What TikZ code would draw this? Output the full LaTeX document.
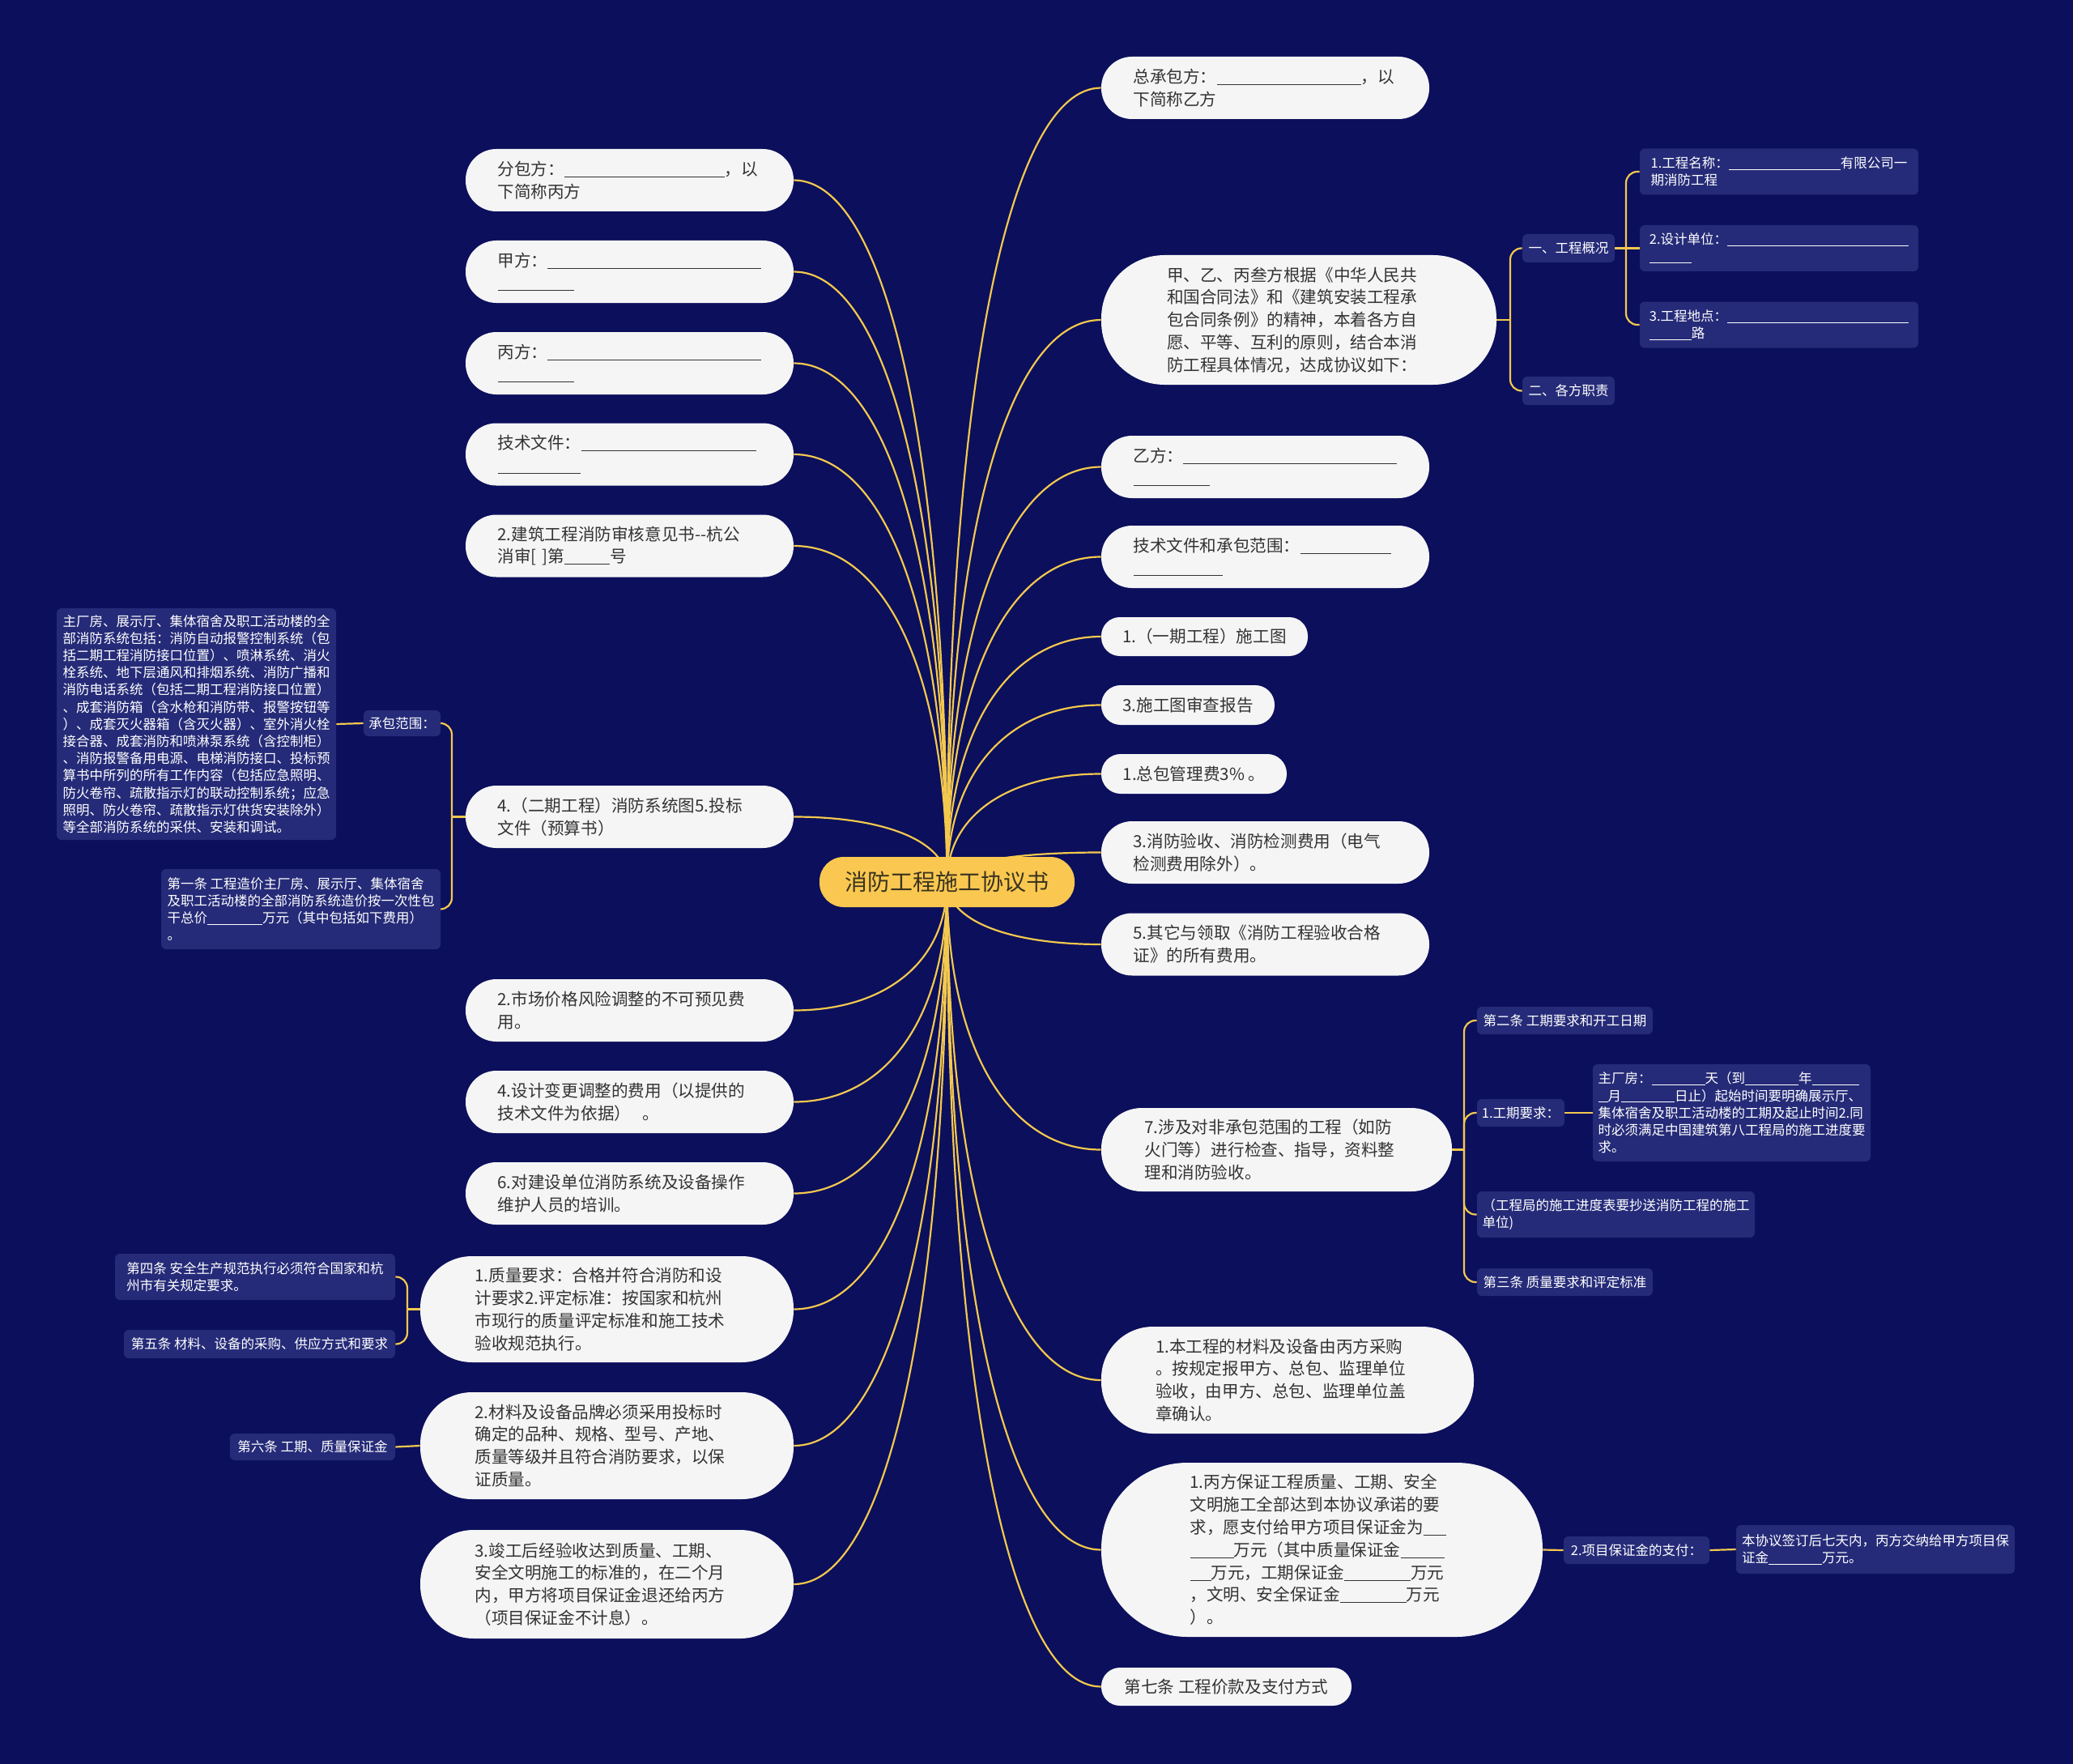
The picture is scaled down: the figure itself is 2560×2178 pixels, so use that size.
\documentclass[tikz,border=0pt]{standalone}
\usepackage{fontspec}
\setmainfont{Noto Sans CJK SC}
\usetikzlibrary{calc}
\definecolor{bgc}{HTML}{0B0F5C}
\definecolor{lineY}{HTML}{F3C84E}
\definecolor{rootY}{HTML}{FAC850}
\definecolor{rootT}{HTML}{3A3320}
\definecolor{wfill}{HTML}{F5F5F5}
\definecolor{wtext}{HTML}{333333}
\definecolor{sfill}{HTML}{252B78}
\pgfdeclarelayer{bglayer}
\pgfsetlayers{bglayer,main}
\newcommand\blk[1]{\rule[-1.3pt]{#1}{0.5pt}}
\newcommand\sblk[1]{\rule[-1.1pt]{#1}{0.45pt}}
\tikzset{
  conn/.style={draw=lineY, line width=1.1pt},
  rootn/.style={fill=rootY, text=rootT, font=\fontsize{14}{17}\selectfont, rounded corners=15pt, minimum width=157.5pt, minimum height=31pt, inner sep=2pt, align=center},
  wn/.style={fill=wfill, text=wtext, font=\fontsize{10.3}{13.9}\selectfont, align=left, inner sep=2pt},
  wm/.style={wn, text width=163pt},
  lw/.style={wm, minimum width=202.5pt, minimum height=38.5pt, rounded corners=19pt},
  sb/.style={fill=sfill, text=white, font=\fontsize{8.25}{10.6}\selectfont, align=left, inner sep=2pt, rounded corners=3pt},
}
\begin{document}
\begin{tikzpicture}[x=0.5pt,y=-0.5pt]
\useasboundingbox (0,0) rectangle (2560,2178);
\begin{pgfonlayer}{bglayer}
\fill[bgc] (0,0) rectangle (2560,2178);
\end{pgfonlayer}

% root
\node[rootn] (root) at (1169.5,1089) {消防工程施工协议书};

% left level-1
\node[lw] (L1) at (777.5,222.5) {分包方：\blk{99pt}，以\\下简称丙方};
\node[lw] (L2) at (777.5,335.5) {甲方：\blk{132pt}\\\blk{47pt}};
\node[lw] (L3) at (777.5,448.5) {丙方：\blk{132pt}\\\blk{47pt}};
\node[lw] (L4) at (777.5,561) {技术文件：\blk{108pt}\\\blk{51pt}};
\node[lw] (L5) at (777.5,674) {2.建筑工程消防审核意见书-{}-杭公\\消审[~]第\blk{28pt}号};
\node[lw] (L6) at (777.5,1008.5) {4.（二期工程）消防系统图5.投标\\文件（预算书）};
\node[lw] (L7) at (777.5,1247.5) {2.市场价格风险调整的不可预见费\\用。};
\node[lw] (L8) at (777.5,1360.5) {4.设计变更调整的费用（以提供的\\技术文件为依据）~~。};
\node[lw] (L9) at (777.5,1473.5) {6.对建设单位消防系统及设备操作\\维护人员的培训。};
\node[wm, minimum width=230.5pt, minimum height=65.5pt, rounded corners=32pt] (L10) at (749.5,1616.5) {1.质量要求：合格并符合消防和设\\计要求2.评定标准：按国家和杭州\\市现行的质量评定标准和施工技术\\验收规范执行。};
\node[wm, minimum width=230.5pt, minimum height=66pt, rounded corners=32pt] (L11) at (749.5,1785) {2.材料及设备品牌必须采用投标时\\确定的品种、规格、型号、产地、\\质量等级并且符合消防要求，以保\\证质量。};
\node[wm, minimum width=230.5pt, minimum height=67pt, rounded corners=33pt] (L12) at (749.5,1956) {3.竣工后经验收达到质量、工期、\\安全文明施工的标准的，在二个月\\内，甲方将项目保证金退还给丙方\\（项目保证金不计息）。};

% right level-1
\node[lw] (R1) at (1562.5,108.5) {总承包方：\blk{89pt}，以\\下简称乙方};
\node[wm, minimum width=244pt, minimum height=80pt, rounded corners=39pt] (R2) at (1604,395) {甲、乙、丙叁方根据《中华人民共\\和国合同法》和《建筑安装工程承\\包合同条例》的精神，本着各方自\\愿、平等、互利的原则，结合本消\\防工程具体情况，达成协议如下：};
\node[lw] (R3) at (1562.5,576.5) {乙方：\blk{132pt}\\\blk{47pt}};
\node[lw] (R4) at (1562.5,687.5) {技术文件和承包范围：\blk{56pt}\\\blk{55pt}};
\node[wn, minimum width=127.5pt, minimum height=24pt, rounded corners=11.5pt] (R5) at (1487.5,786) {1.（一期工程）施工图};
\node[wn, minimum width=107pt, minimum height=24.5pt, rounded corners=12pt] (R6) at (1467,870.5) {3.施工图审查报告};
\node[wn, minimum width=114.5pt, minimum height=24.5pt, rounded corners=12pt] (R7) at (1474.5,955.5) {1.总包管理费3\%\ 。};
\node[lw] (R8) at (1562.5,1052.5) {3.消防验收、消防检测费用（电气\\检测费用除外）。};
\node[lw] (R9) at (1562.5,1166) {5.其它与领取《消防工程验收合格\\证》的所有费用。};
\node[wm, minimum width=216.5pt, minimum height=51.5pt, rounded corners=25pt] (R10) at (1576.5,1419.5) {7.涉及对非承包范围的工程（如防\\火门等）进行检查、指导，资料整\\理和消防验收。};
\node[wm, minimum width=230pt, minimum height=66pt, rounded corners=32pt] (R11) at (1590,1704) {1.本工程的材料及设备由丙方采购\\。按规定报甲方、总包、监理单位\\验收，由甲方、总包、监理单位盖\\章确认。};
\node[wm, minimum width=272.5pt, minimum height=107.5pt, rounded corners=53pt] (R12) at (1632.5,1913.5) {1.丙方保证工程质量、工期、安全\\文明施工全部达到本协议承诺的要\\求，愿支付给甲方项目保证金为\blk{14pt}\\\blk{27pt}万元（其中质量保证金\blk{27pt}\\\blk{13pt}万元，工期保证金\blk{41pt}万元\\，文明、安全保证金\blk{41pt}万元\\）。};
\node[wn, minimum width=154.5pt, minimum height=23.5pt, rounded corners=11.5pt] (R13) at (1514.5,2082.5) {第七条 工程价款及支付方式};

% small boxes right top
\node[sb, minimum width=57pt, minimum height=17.5pt] (S1) at (1937,306.5) {一、工程概况};
\node[sb, minimum width=57pt, minimum height=17.5pt] (S2) at (1937,482.5) {二、各方职责};
\node[sb, minimum width=172pt, minimum height=28.5pt] (S3) at (2197,212) {1.工程名称：\sblk{69pt}有限公司一\\期消防工程};
\node[sb, minimum width=172pt, minimum height=28.5pt] (S4) at (2197,306.5) {2.设计单位：\sblk{112pt}\\\sblk{26pt}};
\node[sb, minimum width=172pt, minimum height=28.5pt] (S5) at (2197,401) {3.工程地点：\sblk{112pt}\\\sblk{26pt}路};

% left small boxes
\node[sb, minimum width=47.5pt, minimum height=16pt] (K1) at (496.5,893) {承包范围：};
\node[sb, minimum width=172.5pt, minimum height=143pt] (K2) at (242.5,894) {主厂房、展示厅、集体宿舍及职工活动楼的全\\部消防系统包括：消防自动报警控制系统（包\\括二期工程消防接口位置）、喷淋系统、消火\\栓系统、地下层通风和排烟系统、消防广播和\\消防电话系统（包括二期工程消防接口位置）\\、成套消防箱（含水枪和消防带、报警按钮等\\）、成套灭火器箱（含灭火器）、室外消火栓\\接合器、成套消防和喷淋泵系统（含控制柜）\\、消防报警备用电源、电梯消防接口、投标预\\算书中所列的所有工作内容（包括应急照明、\\防火卷帘、疏散指示灯的联动控制系统；应急\\照明、防火卷帘、疏散指示灯供货安装除外）\\等全部消防系统的采供、安装和调试。};
\node[sb, minimum width=172.5pt, minimum height=49.5pt] (K3) at (371.5,1122.5) {第一条 工程造价主厂房、展示厅、集体宿舍\\及职工活动楼的全部消防系统造价按一次性包\\干总价\sblk{34pt}万元（其中包括如下费用）\\。};
\node[sb, minimum width=173pt, minimum height=28.5pt] (Q1) at (315,1576.5) {第四条 安全生产规范执行必须符合国家和杭\\州市有关规定要求。};
\node[sb, minimum width=167.5pt, minimum height=17.5pt] (Q2) at (320.5,1659.5) {第五条 材料、设备的采购、供应方式和要求};
\node[sb, minimum width=102pt, minimum height=16.5pt] (Q3) at (386,1786.5) {第六条 工期、质量保证金};

% right middle small boxes
\node[sb, minimum width=108.5pt, minimum height=17pt] (T1) at (1932.5,1260) {第二条 工期要求和开工日期};
\node[sb, minimum width=54pt, minimum height=17pt] (T2) at (1878,1374) {1.工期要求：};
\node[sb, minimum width=171.5pt, minimum height=60pt] (T3) at (2138.5,1374) {主厂房：\sblk{33pt}天（到\sblk{33pt}年\sblk{29pt}\\\sblk{6pt}月\sblk{33pt}日止）起始时间要明确展示厅、\\集体宿舍及职工活动楼的工期及起止时间2.同\\时必须满足中国建筑第八工程局的施工进度要\\求。};
\node[sb, minimum width=171.5pt, minimum height=28.5pt] (T4) at (1995.5,1499.5) {（工程局的施工进度表要抄送消防工程的施工\\单位)};
\node[sb, minimum width=108.5pt, minimum height=17pt] (T5) at (1932.5,1583) {第三条 质量要求和评定标准};
\node[sb, minimum width=90pt, minimum height=17pt] (P1) at (2021,1914) {2.项目保证金的支付：};
\node[sb, minimum width=172pt, minimum height=30pt] (P2) at (2316,1913) {本协议签订后七天内，丙方交纳给甲方项目保\\证金\sblk{33pt}万元。};

% junction coordinates
\coordinate (jR2) at (1865,395);
\coordinate (jS1) at (2008,306.5);
\coordinate (jR10) at (1808,1419.5);
\coordinate (jL6) at (558,1008.5);
\coordinate (jL10) at (503,1616.5);

\begin{pgfonlayer}{bglayer}
\foreach \n in {L1,L2,L3,L4,L5,L6,L7,L8,L9,L10,L11,L12}{
  \draw[conn] (root.center) .. controls ($(root.center)!0.62!(root.center |- \n.east)$) and ($(\n.east)!0.6!(root.center |- \n.east)$) .. (\n.east);
}
\foreach \n in {R1,R2,R3,R4,R5,R6,R7,R8,R9,R10,R11,R12,R13}{
  \draw[conn] (root.center) .. controls ($(root.center)!0.62!(root.center |- \n.west)$) and ($(\n.west)!0.6!(root.center |- \n.west)$) .. (\n.west);
}
\draw[conn] (R2.east) -- (jR2);
\foreach \n in {S1,S2}{\draw[conn, rounded corners=7pt] (jR2) |- (\n.west);}
\draw[conn] (S1.east) -- (jS1);
\foreach \n in {S3,S5}{\draw[conn, rounded corners=7pt] (jS1) |- (\n.west);}
\draw[conn] (jS1) -- (S4.west);
\draw[conn] (R10.east) -- (jR10);
\foreach \n in {T1,T2,T4,T5}{\draw[conn, rounded corners=7pt] (jR10) |- (\n.west);}
\draw[conn] (T2.east) -- (T3.west);
\draw[conn] (R12.east) -- (P1.west);
\draw[conn] (P1.east) -- (P2.west);
\draw[conn] (L6.west) -- (jL6);
\foreach \n in {K1,K3}{\draw[conn, rounded corners=7pt] (jL6) |- (\n.east);}
\draw[conn] (K1.west) -- (K2.east);
\draw[conn] (L10.west) -- (jL10);
\foreach \n in {Q1,Q2}{\draw[conn, rounded corners=7pt] (jL10) |- (\n.east);}
\draw[conn] (L11.west) -- (Q3.east);
\end{pgfonlayer}
\end{tikzpicture}
\end{document}
